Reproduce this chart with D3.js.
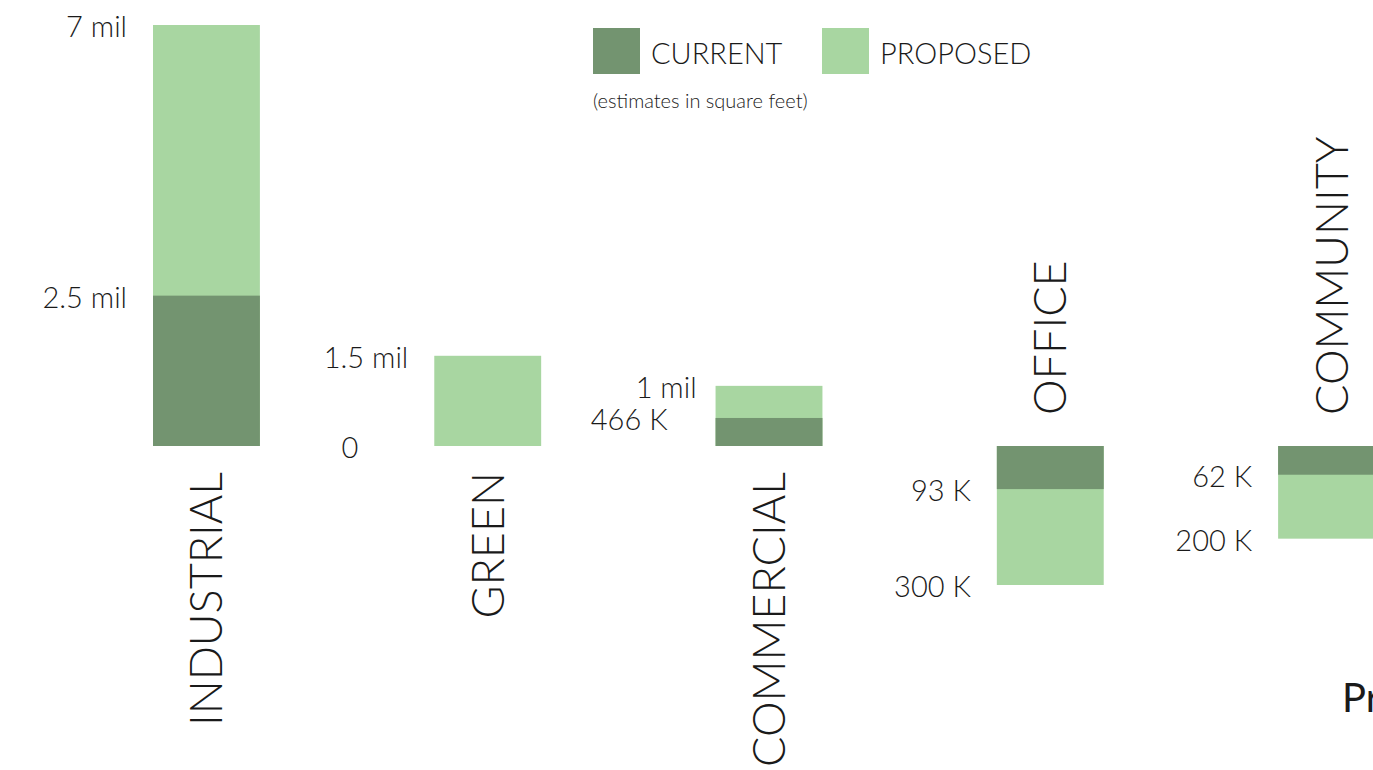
<!DOCTYPE html>
<html>
<head>
<meta charset="utf-8">
<script src="https://cdn.jsdelivr.net/npm/d3@7"></script>
<style>
    body { margin: 0; background: #fff; overflow: hidden; }
    text { font-family: Lato, "Open Sans", sans-serif; fill: #1a1a1a; }
    .cat-label { font-weight: 300; font-size: 45px; }
    .val-label { font-weight: 300; font-size: 29px; }
    .legend-label { font-weight: 300; font-size: 29px; }
</style>
</head>
<body>
<svg class="chart"></svg>
<script>
// land use, current vs proposed (square feet)
const categories = ["INDUSTRIAL", "GREEN", "COMMERCIAL", "OFFICE", "COMMUNITY"]
const currentValues = [2500000, 0, 466000, 93000, 62000]
const proposedValues = [7000000, 1500000, 1000000, 300000, 200000]
// which bars hang below the baseline
const below = [false, false, false, true, true]
const currentLabels = ["2.5 mil", "0", "466 K", "93 K", "62 K"]
const proposedLabels = ["7 mil", "1.5 mil", "1 mil", "300 K", "200 K"]

const colors = {current: "#739470", proposed: "#a8d6a1"}

var width = 1373, height = 770

var svg = d3.select(".chart")
    .attr("width", width)
    .attr("height", height)

var xScale = d3.scaleBand()
    .domain(categories)
    .range([153, 1385])
    .paddingInner(0.62)
    .paddingOuter(0)

var baseline = 446

var yUp = d3.scaleLinear()
    .domain([0, 7000000])
    .range([baseline, 25])

var yDown = d3.scaleLinear()
    .domain([0, 300000])
    .range([baseline, 585])

function yFor(i, v) { return below[i] ? yDown(v) : yUp(v) }

var rows = categories.map(function(c, i) {
    return {cat: c, i: i, current: currentValues[i], proposed: proposedValues[i],
            cl: currentLabels[i], pl: proposedLabels[i], below: below[i]}
})

var graph = svg.append("g").attr("class", "graph")

// proposed first, current drawn over it
graph.selectAll(".bar-proposed")
    .data(rows)
    .enter().append("rect")
    .attr("class", "bar-proposed")
    .attr("x", d => xScale(d.cat))
    .attr("width", xScale.bandwidth())
    .attr("y", d => Math.min(yFor(d.i, d.proposed), baseline))
    .attr("height", d => Math.abs(yFor(d.i, d.proposed) - baseline))
    .attr("fill", colors.proposed)

graph.selectAll(".bar-current")
    .data(rows.filter(d => d.current > 0))
    .enter().append("rect")
    .attr("class", "bar-current")
    .attr("x", d => xScale(d.cat))
    .attr("width", xScale.bandwidth())
    .attr("y", d => Math.min(yFor(d.i, d.current), baseline))
    .attr("height", d => Math.abs(yFor(d.i, d.current) - baseline))
    .attr("fill", colors.current)

// value labels left of each bar
// a couple of labels are nudged by hand like in the original
const nudge = {"466 K": -22, "0": -50, "1 mil": 7}

rows.forEach(function(d) {
    [[d.proposed, d.pl], [d.current, d.cl]].forEach(function(p) {
        graph.append("text")
            .attr("class", "val-label")
            .attr("x", xScale(d.cat) - 26 + (nudge[p[1]] || 0))
            .attr("y", yFor(d.i, p[0]) + 5)
            .attr("dominant-baseline", "middle")
            .attr("text-anchor", "end")
            .text(p[1])
    })
})

// category labels, rotated
graph.selectAll(".cat-label")
    .data(rows)
    .enter().append("text")
    .attr("class", "cat-label")
    .attr("transform", function(d) {
        var cx = xScale(d.cat) + xScale.bandwidth() / 2 + 16
        var y = d.below ? baseline - 31 : baseline + 26
        return "translate(" + cx + "," + y + ") rotate(-90)"
    })
    .attr("text-anchor", d => d.below ? "start" : "end")
    .text(d => d.cat)

// legend
var legend = svg.append("g").attr("class", "legend")
var legendItems = [["CURRENT", colors.current, 593], ["PROPOSED", colors.proposed, 822]]
legendItems.forEach(function(l) {
    legend.append("rect")
        .attr("x", l[2]).attr("y", 28)
        .attr("width", 47).attr("height", 46)
        .attr("fill", l[1])
    legend.append("text")
        .attr("class", "legend-label")
        .attr("x", l[2] + 58).attr("y", 64)
        .text(l[0])
})
legend.append("text")
    .attr("x", 593).attr("y", 108)
    .style("font-size", "20px")
    .style("font-weight", 300)
    .text("(estimates in square feet)")

svg.append("text")
    .attr("x", 1342).attr("y", 712)
    .style("font-size", "40px")
    .text("Pr")
</script>
</body>
</html>
